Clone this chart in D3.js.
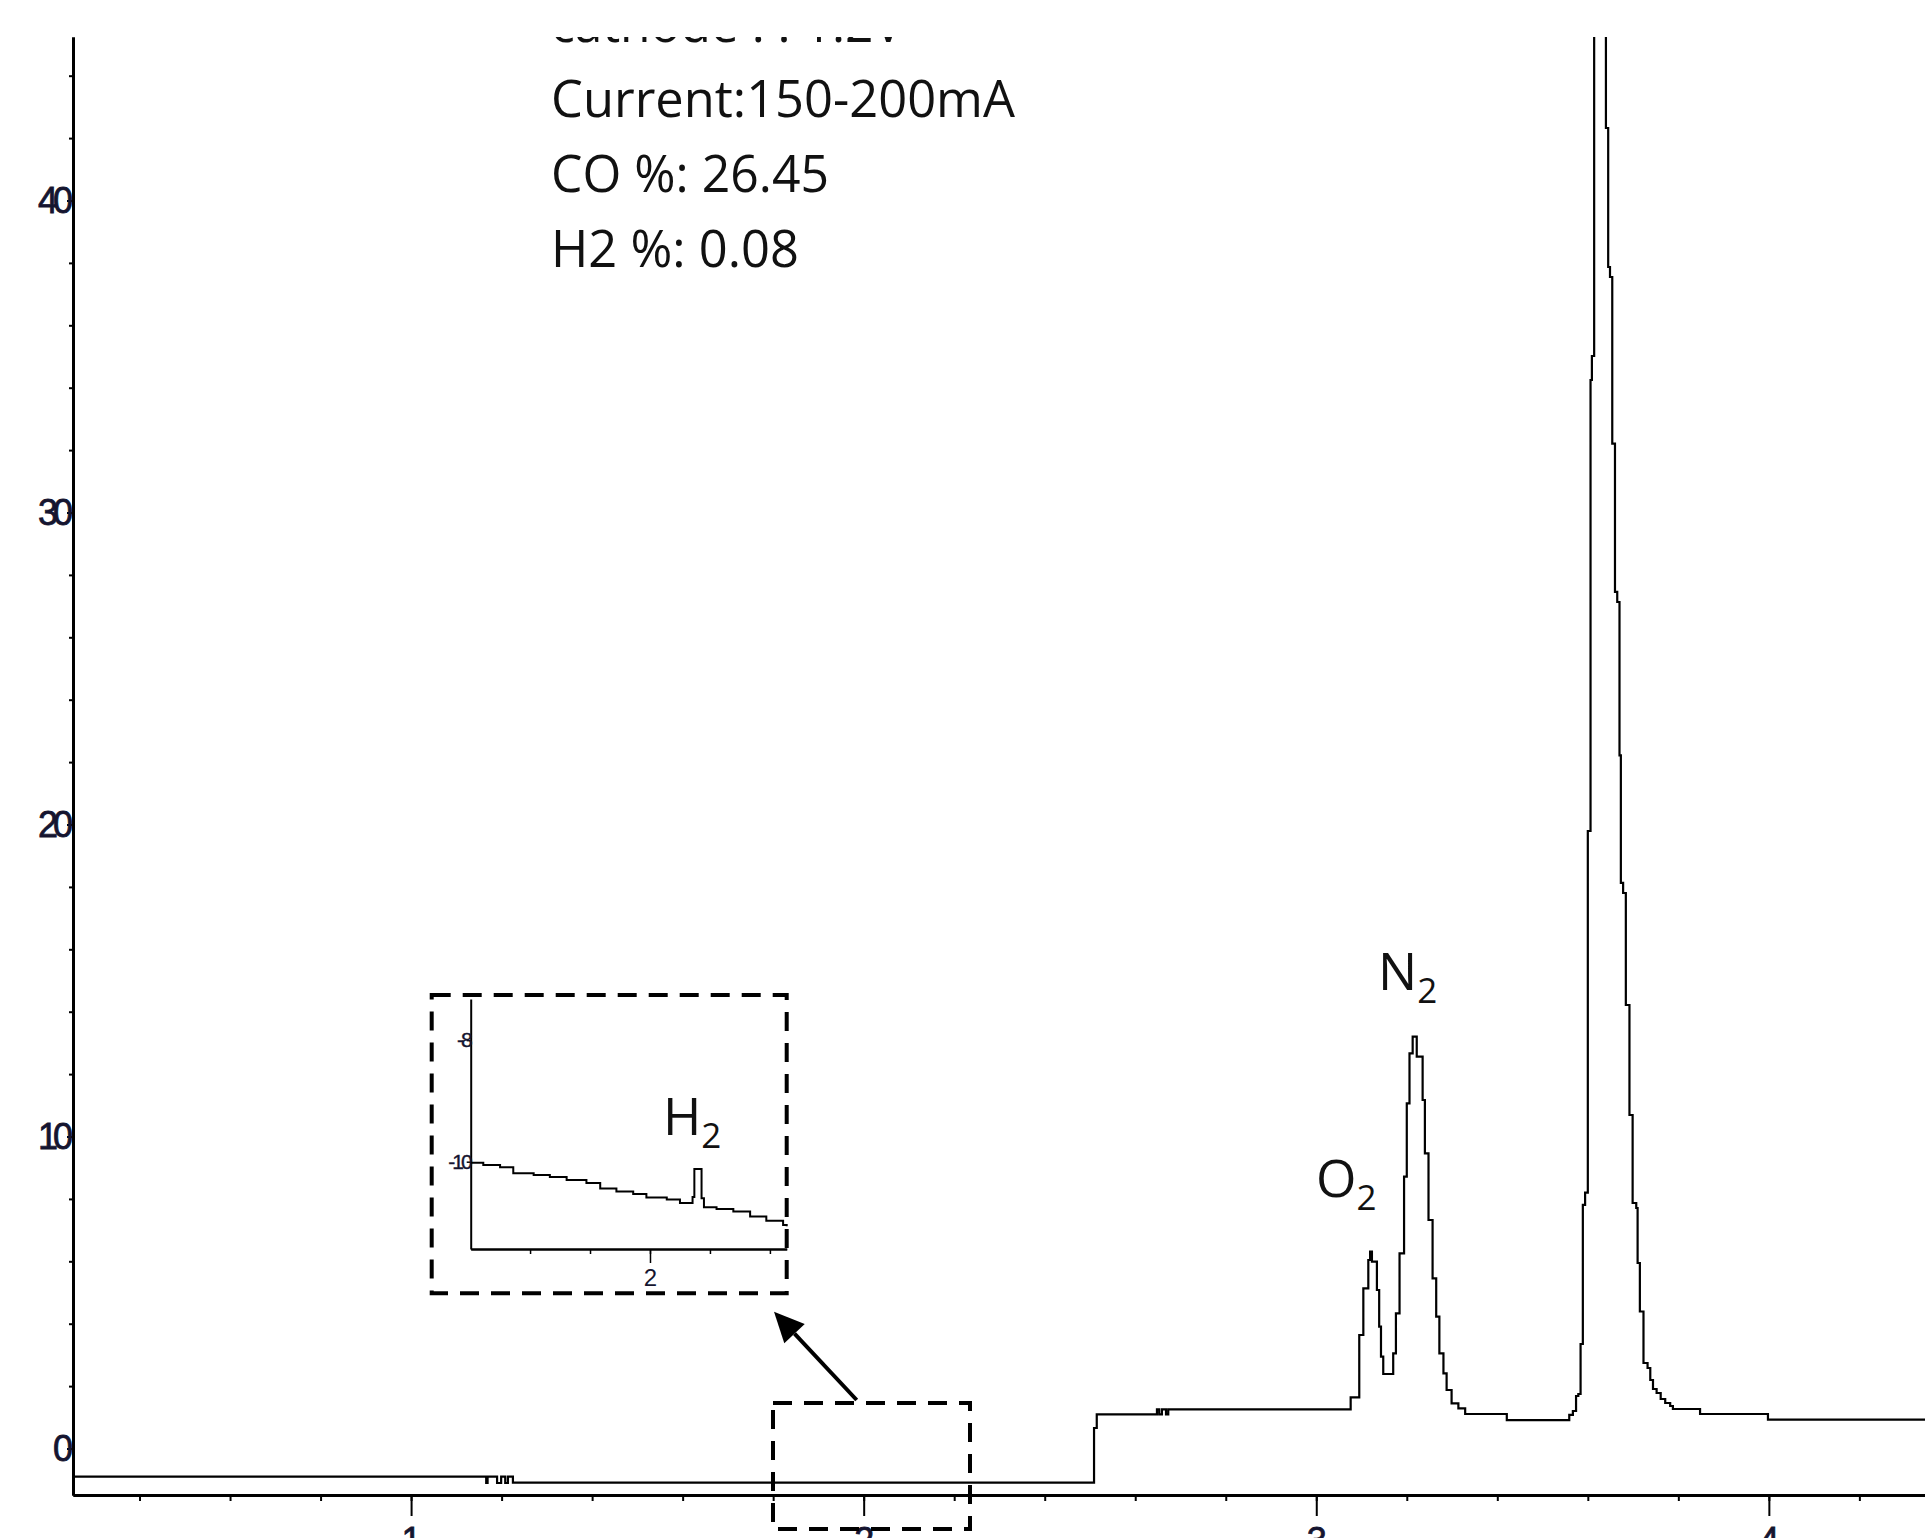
<!DOCTYPE html>
<html>
<head>
<meta charset="utf-8">
<script src="https://cdn.jsdelivr.net/npm/d3@7"></script>
<style>
  body { margin: 0; background: #fff; }
  svg { display: block; }
</style>
</head>
<body>
<div id="chart"></div>
<script>
// main chromatogram (retention time in min, signal)
const traceTime = [
  0.253, 1.166, 1.169, 1.190, 1.199, 1.208, 1.214, 1.225,
  2.509, 2.515, 2.648, 2.653, 2.659, 2.668, 2.673,
  3.076, 3.095, 3.104, 3.115, 3.119, 3.123, 3.134, 3.139, 3.143, 3.148,
  3.170, 3.176, 3.184, 3.194, 3.200, 3.206, 3.213, 3.222, 3.235, 3.240,
  3.248, 3.257, 3.265, 3.272, 3.281, 3.288, 3.299, 3.314, 3.329, 3.421,
  3.559, 3.567, 3.574, 3.579, 3.584, 3.589, 3.594, 3.600, 3.606, 3.609, 3.614,
  3.640, 3.645, 3.649, 3.654, 3.660, 3.665, 3.670, 3.673, 3.678, 3.684,
  3.692, 3.699, 3.707, 3.710, 3.715, 3.723, 3.732, 3.738, 3.744, 3.752,
  3.761, 3.771, 3.782, 3.788, 3.848, 3.998, 4.345
];
const traceSignal = [
  -0.904, -1.106, -0.904, -1.106, -0.904, -1.106, -0.904, -1.096,
  0.657, 1.096, 1.256, 1.096, 1.256, 1.096, 1.256,
  1.641, 3.638, 5.135, 6.042, 6.308, 5.987, 5.080, 3.904, 2.942, 2.388,
  3.051, 4.333, 6.256, 8.712, 11.064, 12.667, 13.199, 12.558, 11.170, 9.462,
  7.324, 5.455, 4.224, 3.051, 2.410, 1.875, 1.449, 1.288, 1.106, 0.913,
  1.080, 1.202, 1.683, 1.747, 3.349, 7.811, 8.199, 19.792, 34.247, 35.016, 58,
  42.324, 37.869, 37.548, 32.205, 27.458, 27.131, 22.218, 18.131, 17.804, 14.215,
  10.689, 7.869, 7.708, 5.946, 4.391, 2.740, 2.580, 2.196, 1.907, 1.779,
  1.587, 1.458, 1.362, 1.266, 1.106, 0.923, 0.923
];

// inset: zoom on the H2 region
const insetTime = [
  1.701, 1.722, 1.750, 1.772, 1.806, 1.833, 1.861, 1.894, 1.917, 1.944,
  1.972, 1.994, 2.028, 2.050, 2.071, 2.074, 2.086, 2.090, 2.111, 2.139,
  2.167, 2.194, 2.222, 2.228
];
const insetSignal = [
  -10.016, -10.054, -10.09, -10.19, -10.22, -10.25, -10.30, -10.35, -10.44, -10.49,
  -10.53, -10.59, -10.62, -10.68, -10.58, -10.12, -10.60, -10.75, -10.78, -10.82,
  -10.90, -10.97, -11.04, -11.06
];

const xMajorTicks = [1, 2, 3, 4];
const yMajorTicks = [0, 10, 20, 30, 40];
const insetXMajor = [2];
const insetYMajor = [-10, -8];

const infoLines = ["cathode : : 1.2V", "Current:150-200mA", "CO %: 26.45", "H2 %: 0.08"];
const infoWidths = [352, 464, 278, 248];

const width = 1925, height = 1538;
const plot = {left: 73, top: 37, right: 1925, bottom: 1495};

const svg = d3.select("#chart").append("svg")
  .attr("width", width)
  .attr("height", height)
  .style("font-family", "'Open Sans', 'Noto Sans', sans-serif");

const defs = svg.append("defs");
defs.append("clipPath").attr("id", "plotClip")
  .append("rect")
  .attr("x", plot.left).attr("y", plot.top)
  .attr("width", plot.right - plot.left).attr("height", plot.bottom - plot.top);
defs.append("clipPath").attr("id", "topClip")
  .append("rect")
  .attr("x", 0).attr("y", plot.top)
  .attr("width", width).attr("height", height - plot.top);

const x = d3.scaleLinear().domain([0.253, 4.345]).range([plot.left, plot.right]);
const y = d3.scaleLinear().domain([-1.49, 45.24]).range([plot.bottom, plot.top]);

// axes
const xAxis = d3.axisBottom(x).tickValues(xMajorTicks).tickSize(21).tickSizeOuter(0).tickFormat(d3.format("d"));
const xMinor = d3.axisBottom(x).tickValues(d3.range(2, 22).map(i => i / 5)).tickSize(6).tickSizeOuter(0).tickFormat("");
const yAxis = d3.axisLeft(y).tickValues(yMajorTicks).tickSize(6).tickSizeOuter(0).tickFormat(d3.format("d"));
const yMinor = d3.axisLeft(y).tickValues(d3.range(0, 23).map(i => i * 2)).tickSize(4).tickSizeOuter(0).tickFormat("");

function styleAxis(g, sw) {
  g.select(".domain").attr("stroke", "#000").attr("stroke-width", sw);
  g.selectAll(".tick line").attr("stroke", "#000").attr("stroke-width", 2);
}

svg.append("g").attr("transform", `translate(0,${plot.bottom})`).call(xMinor).call(g => styleAxis(g, 3));
svg.append("g").attr("transform", `translate(0,${plot.bottom})`).call(xAxis).call(g => styleAxis(g, 3))
  .call(g => g.selectAll(".tick text")
    .attr("y", 32).attr("dy", "0.71em")
    .attr("font-family", "'Liberation Sans', Arial, sans-serif")
    .attr("font-size", 36).attr("fill", "#151530")
    .attr("stroke", "#151530").attr("stroke-width", 0.8));

svg.append("g").attr("transform", `translate(${plot.left},0)`).call(yMinor).call(g => styleAxis(g, 3));
svg.append("g").attr("transform", `translate(${plot.left},0)`).call(yAxis).call(g => styleAxis(g, 3))
  .call(g => g.selectAll(".tick text")
    .attr("x", -5)
    .attr("font-family", "'Liberation Sans', Arial, sans-serif")
    .attr("font-size", 36).attr("letter-spacing", -5)
    .attr("fill", "#151530").attr("stroke", "#151530").attr("stroke-width", 0.8));

// main trace
const line = d3.line()
  .x((d, i) => x(traceTime[i]))
  .y((d, i) => y(traceSignal[i]))
  .curve(d3.curveStepAfter);

svg.append("path")
  .datum(traceTime)
  .attr("clip-path", "url(#plotClip)")
  .attr("fill", "none")
  .attr("stroke", "#000")
  .attr("stroke-width", 2.2)
  .attr("d", line);

// info text block (top line cut off by the crop)
svg.append("g").attr("clip-path", "url(#topClip)")
  .selectAll("text")
  .data(infoLines)
  .join("text")
  .attr("x", 551)
  .attr("y", (d, i) => 41.5 + i * 75.2)
  .attr("font-size", 52)
  .attr("textLength", (d, i) => infoWidths[i])
  .attr("lengthAdjust", "spacingAndGlyphs")
  .attr("fill", "#111")
  .text(d => d);

// peak labels
function chemLabel(g, px, py, main, sub) {
  const t = g.append("text").attr("x", px).attr("y", py).attr("fill", "#111");
  t.append("tspan").attr("font-size", 52).text(main);
  t.append("tspan").attr("font-size", 35).attr("dy", 13).text(sub);
}
const labels = svg.append("g");
chemLabel(labels, 1316, 1197, "O", "2");
chemLabel(labels, 1378, 990, "N", "2");

// small dashed box around the H2 region and the arrow to the inset
const dash = "19,12";
svg.append("rect")
  .attr("x", 773).attr("y", 1403).attr("width", 197).attr("height", 126)
  .attr("fill", "none").attr("stroke", "#000").attr("stroke-width", 4)
  .attr("stroke-dasharray", dash);

const tail = [856.7, 1400], tip = [774, 1311.7];
const dx = tip[0] - tail[0], dy = tip[1] - tail[1];
const len = Math.hypot(dx, dy), ux = dx / len, uy = dy / len;
const headLen = 30, headHalf = 14;
const bx = tip[0] - headLen * ux, by = tip[1] - headLen * uy;
svg.append("line")
  .attr("x1", tail[0]).attr("y1", tail[1]).attr("x2", bx).attr("y2", by)
  .attr("stroke", "#000").attr("stroke-width", 4);
svg.append("polygon")
  .attr("points", [[tip[0], tip[1]], [bx - headHalf * uy, by + headHalf * ux], [bx + headHalf * uy, by - headHalf * ux]].join(" "))
  .attr("fill", "#000");

// inset
const inset = svg.append("g");
inset.append("rect")
  .attr("x", 431.7).attr("y", 995).attr("width", 355).attr("height", 298.3)
  .attr("fill", "#fff").attr("stroke", "#000").attr("stroke-width", 4)
  .attr("stroke-dasharray", dash);

const ix = d3.scaleLinear().domain([1.701, 2.228]).range([470.7, 786.7]);
const iy = d3.scaleLinear().domain([-11.436, -7.324]).range([1249, 999]);

const ixMinor = d3.axisBottom(ix).tickValues(d3.range(18, 23).map(i => i / 10)).tickSize(5).tickSizeOuter(0).tickFormat("");
const ixAxis = d3.axisBottom(ix).tickValues(insetXMajor).tickSize(14).tickSizeOuter(0).tickFormat(d => String(d));
const iyAxis = d3.axisLeft(iy).tickValues(insetYMajor).tickSize(4).tickSizeOuter(0).tickFormat(d => String(d));

inset.append("g").attr("transform", `translate(0,${iy.range()[0]})`).call(ixMinor).call(g => styleAxis(g, 2));
inset.append("g").attr("transform", `translate(0,${iy.range()[0]})`).call(ixAxis).call(g => styleAxis(g, 2))
  .call(g => g.selectAll(".tick text")
    .attr("y", 20).attr("dy", "0.71em")
    .attr("font-family", "'Liberation Sans', Arial, sans-serif")
    .attr("font-size", 24).attr("fill", "#151530"));
inset.append("g").attr("transform", `translate(${ix.range()[0]},0)`).call(iyAxis).call(g => styleAxis(g, 2))
  .call(g => g.selectAll(".tick text")
    .attr("x", -1)
    .attr("font-family", "'Liberation Sans', Arial, sans-serif")
    .attr("font-size", 21).attr("letter-spacing", -3).attr("fill", "#151530")
    .attr("stroke", "#151530").attr("stroke-width", 0.4));
inset.selectAll(".tick line").attr("stroke-width", 1.5);

const insetLine = d3.line()
  .x((d, i) => ix(insetTime[i]))
  .y((d, i) => iy(insetSignal[i]))
  .curve(d3.curveStepAfter);

inset.append("path")
  .datum(insetTime)
  .attr("fill", "none")
  .attr("stroke", "#000")
  .attr("stroke-width", 2)
  .attr("d", insetLine);

chemLabel(inset, 663, 1135, "H", "2");
</script>
</body>
</html>
